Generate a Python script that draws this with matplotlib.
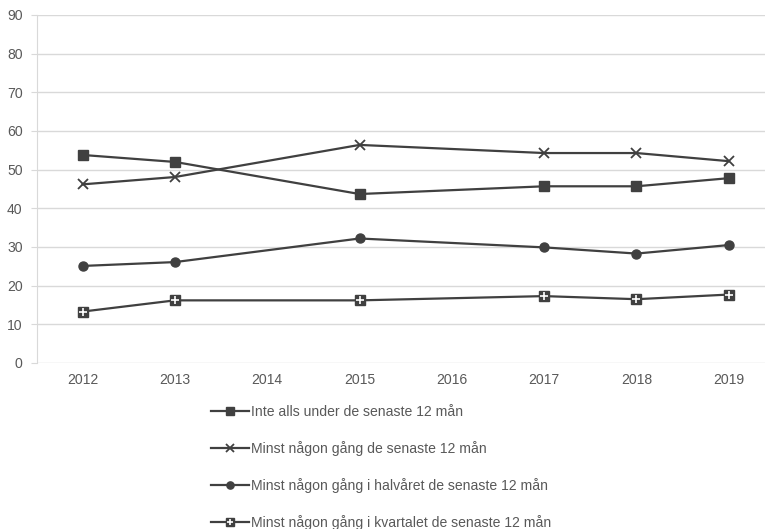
#!/usr/bin/env python3

import matplotlib
matplotlib.use("Agg")
import matplotlib.pyplot as plt
from matplotlib.legend_handler import HandlerTuple

plt.rcParams['font.family'] = ['Liberation Sans', 'DejaVu Sans']

years = ['2012', '2013', '2014', '2015', '2016', '2017', '2018', '2019']
data_years = ['2012', '2013', '2015', '2017', '2018', '2019']

inte_alls = [53.8, 52.0, 43.7, 45.7, 45.7, 47.8]
minst_ngn = [46.2, 48.1, 56.4, 54.3, 54.3, 52.2]
halvaret = [25.1, 26.1, 32.2, 29.9, 28.3, 30.5]
kvartalet = [13.3, 16.2, 16.2, 17.3, 16.5, 17.7]

labels = [
    'Inte alls under de senaste 12 mån',
    'Minst någon gång de senaste 12 mån',
    'Minst någon gång i halvåret de senaste 12 mån',
    'Minst någon gång i kvartalet de senaste 12 mån',
]

LINE = '#404040'
GRID = '#d9d9d9'
TEXT = '#595959'
FS = 10.1

fig = plt.figure(figsize=(7.65, 5.29), dpi=100)
W, H = 765, 529
left, right, top, bottom = 36.5, 765, 15, 363
ax = fig.add_axes([left / W, 1 - bottom / H, (right - left) / W, (bottom - top) / H])

x = [years.index(y) for y in data_years]

l1, = ax.plot(x, inte_alls, color=LINE, lw=1.6, marker='s', ms=7,
              mfc=LINE, mec=LINE)
l2, = ax.plot(x, minst_ngn, color=LINE, lw=1.6, marker='x', ms=7,
              mew=1.3, mec=LINE)
l3, = ax.plot(x, halvaret, color=LINE, lw=1.6, marker='o', ms=6.5,
              mfc=LINE, mec=LINE)
l4, = ax.plot(x, kvartalet, color=LINE, lw=1.6, marker='s', ms=7.5,
              mfc=LINE, mec=LINE)
l4p, = ax.plot(x, kvartalet, ls='none', marker='+', ms=6, mew=1.2,
               mec='white')

ax.set_xlim(-0.5, -0.5 + (right - left) / 92.3)
ax.set_ylim(0, 90)
ax.set_yticks(range(0, 91, 10))
ax.set_xticks(range(len(years)))
ax.set_xticklabels(years)

ax.grid(axis='y', color=GRID, lw=1)
ax.set_axisbelow(True)
for s in ['top', 'right', 'bottom']:
    ax.spines[s].set_visible(False)
ax.spines['left'].set_color(GRID)
ax.tick_params(axis='y', length=4, color=GRID, labelcolor=TEXT,
               labelsize=FS, pad=6)
ax.tick_params(axis='x', length=0, labelcolor=TEXT, labelsize=FS, pad=7)

fig.legend([l1, l2, l3, (l4, l4p)], labels,
           handler_map={tuple: HandlerTuple(ndivide=1)},
           loc='upper left', bbox_to_anchor=(211 / W, 1 - 405 / H),
           frameon=False, fontsize=FS, labelcolor=TEXT, markerscale=0.8,
           handlelength=2.7, handletextpad=0.15, labelspacing=1.56,
           borderpad=0, borderaxespad=0)

fig.savefig('out.png', dpi=100)
